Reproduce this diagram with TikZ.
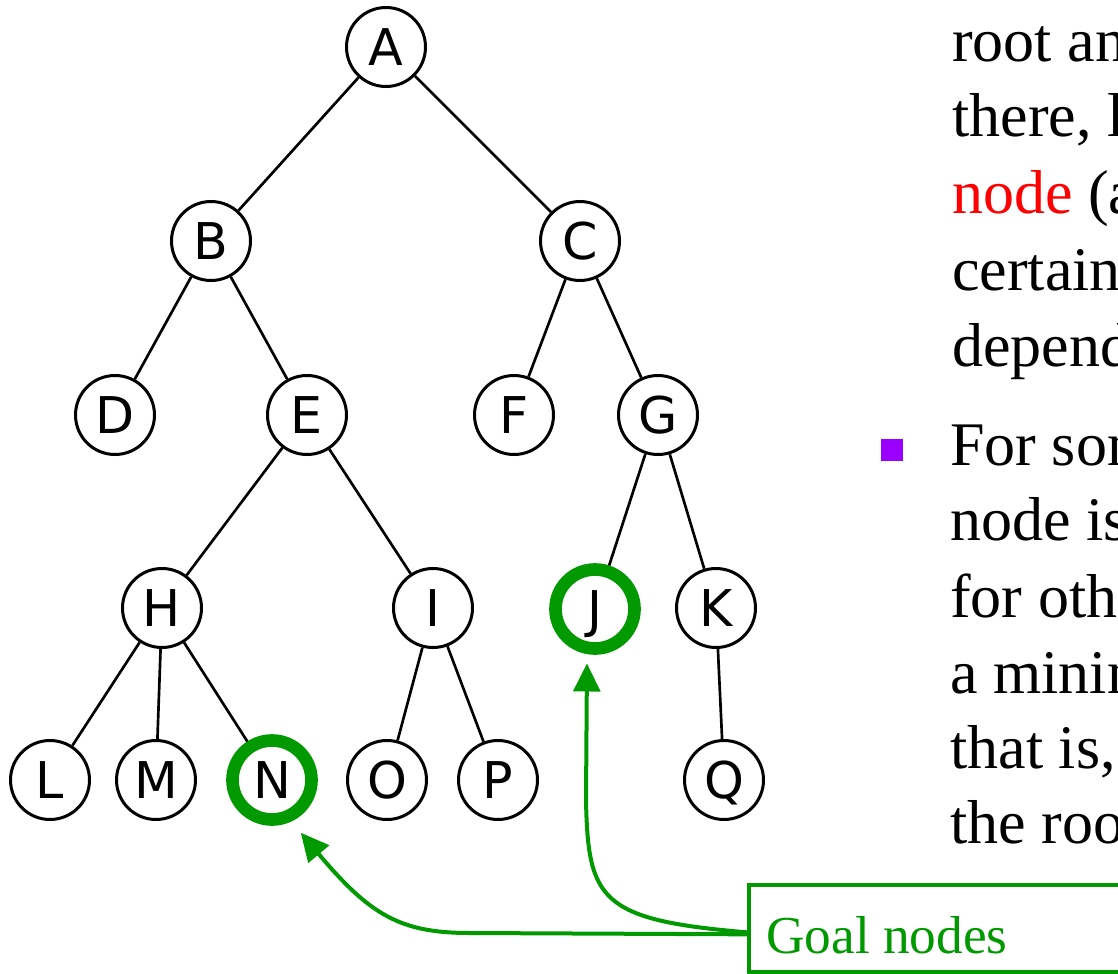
\documentclass[tikz,border=0pt]{standalone}
\usepackage{fontspec}
\setmainfont{Liberation Serif}
\newfontfamily\nodefont{DejaVu Sans}
\usetikzlibrary{arrows.meta}
\definecolor{goalgreen}{RGB}{0,153,0}
\definecolor{bulletpurple}{RGB}{153,0,255}
\definecolor{keyred}{RGB}{255,0,0}
\begin{document}
\begin{tikzpicture}[x=0.75pt,y=-0.75pt,
  tnode/.style={circle,draw=black,fill=white,line width=2.25pt,minimum size=59.25pt,inner sep=0pt,
    font=\nodefont\fontsize{38}{38}\selectfont,text height=27.5pt,text depth=0pt},
  goal/.style={tnode,draw=goalgreen,line width=9.5pt},
  edge/.style={draw=black,line width=2pt},
  pointer/.style={draw=goalgreen,line width=3pt,-{Triangle[length=21pt,width=20pt]}},
  body/.style={anchor=base west,inner sep=0pt,font=\fontsize{46.5}{56}\selectfont},
]
\useasboundingbox (0,0) rectangle (1118,974);
\clip (0,0) rectangle (1118,974);

% tree nodes
\node[tnode] (A) at (386,47) {A};
\node[tnode] (B) at (211,241) {B};
\node[tnode] (C) at (580,241) {C};
\node[tnode] (D) at (115,415) {D};
\node[tnode] (E) at (307,415) {E};
\node[tnode] (F) at (514,415) {F};
\node[tnode] (G) at (658,415) {G};
\node[tnode] (H) at (162,608) {H};
\node[tnode] (I) at (433,608) {I};
\node[goal]  (J) at (595,609) {J};
\node[tnode] (K) at (716,608) {K};
\node[tnode] (L) at (50,780) {L};
\node[tnode] (M) at (156,780) {M};
\node[goal]  (N) at (272,780) {N};
\node[tnode] (O) at (387,780) {O};
\node[tnode] (P) at (498,780) {P};
\node[tnode] (Q) at (724,780) {Q};

% tree edges
\draw[edge] (A) -- (B);
\draw[edge] (A) -- (C);
\draw[edge] (B) -- (D);
\draw[edge] (B) -- (E);
\draw[edge] (C) -- (F);
\draw[edge] (C) -- (G);
\draw[edge] (E) -- (H);
\draw[edge] (E) -- (I);
\draw[edge] (G) -- (J);
\draw[edge] (G) -- (K);
\draw[edge] (H) -- (L);
\draw[edge] (H) -- (M);
\draw[edge] (H) -- (N);
\draw[edge] (I) -- (O);
\draw[edge] (I) -- (P);
\draw[edge] (K) -- (Q);

% goal box
\node[draw=goalgreen,line width=3pt,anchor=north west,minimum width=290pt,minimum height=65pt,inner sep=0pt] (goalbox) at (747,883) {};
\node[anchor=base west,inner sep=0pt,text=goalgreen,font=\fontsize{40}{48}\selectfont] (goallabel) at (766,953) {Goal nodes};

% pointers
\draw[pointer,shorten >=11pt] ([yshift=-4.5pt]goalbox.west) -- (470,933) .. controls (400,933) and (370,915) .. (N.-65);
\draw[pointer,shorten >=7pt] ([yshift=-3pt]goalbox.west) .. controls (600,920) and (588,900) .. (586,800) -- (J.-100);

% body text (clipped at right edge, as in the reference)
\node[body] (t1) at (952,62) {root an};
\node[body] (t2) at (952,137) {there, l};
\node[body] (t3) at (952,213) {{\color{keyred}node} (a};
\node[body] (t4) at (952,290) {certain};
\node[body] (t5) at (952,366) {depend};
\node[fill=bulletpurple,inner sep=0pt,minimum size=16.5pt] (bullet) at (892,449.5) {};
\node[body] (t6) at (950,465) {For som};
\node[body] (t7) at (950,540) {node is};
\node[body] (t8) at (950,617) {for oth};
\node[body] (t9) at (950,693) {a minim};
\node[body] (t10) at (950,768) {that is,};
\node[body] (t11) at (950,843) {the roo};
\end{tikzpicture}
\end{document}
